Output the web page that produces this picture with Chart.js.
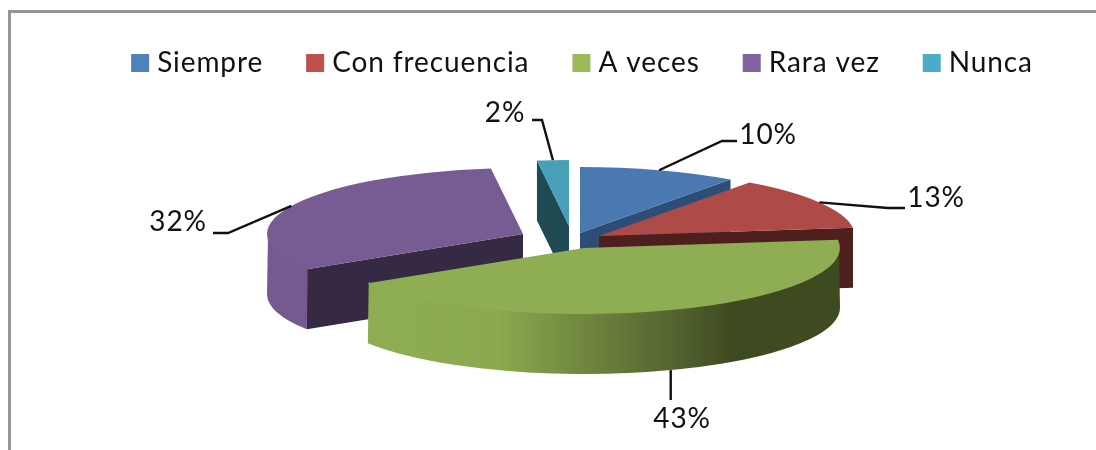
<!DOCTYPE html>
<html><head><meta charset="utf-8">
<script src="https://cdn.jsdelivr.net/npm/chart.js@4"></script>
<style>
html,body{margin:0;padding:0;background:#fff;width:1096px;height:450px;overflow:hidden}
#frame{position:absolute;left:8px;top:10px;right:0;bottom:0;border-left:3px solid #969696;border-top:3px solid #969696}
#wrap{position:absolute;left:0;top:0;width:1096px;height:450px}
</style></head><body>
<div id="frame"></div>
<div id="wrap"><canvas id="c" width="1096" height="450"></canvas></div>
<script>
const categories = ['Siempre','Con frecuencia','A veces','Rara vez','Nunca'];
const values = [10,13,43,32,2];
const legendColors = ['#4f81bd','#c0504d','#9bbb59','#8064a2','#4bacc6'];
const faceColors = ['#4a78b0','#ae4a47','#8fae54','#775b93','#47a0b8'];
const cutColors = ['#2c4d75','#4f1f1e','#3e4a20','#352944','#1f4a54'];

// 3D presentation settings
const PIE = {cx:566, cy:240, rx:256, ry:66, depth:60};
const explodeX = [14,33,18,-43,3];
const explodeY = [-7,-4,8,-6,-14];
const drawOrder = [4,0,3,1,2];
const FONT = '28px Lato';
const labelBox = [
  {x:768,y:135,ex:722,ey:141,lx:737},
  {x:936,y:198,ex:888,ey:208,lx:905},
  {x:682,y:419,ex:null,ey:369,lx:671,ly:400},
  {x:178,y:222,ex:228,ey:233,lx:213},
  {x:505,y:113,ex:542,ey:120,lx:532}
];

const pie3d = {
  id:'pie3d',
  beforeUpdate(chart){ chart.ctx.letterSpacing='0.9px'; },
  beforeDatasetsDraw(chart){
    const ctx = chart.ctx, meta = chart.getDatasetMeta(0);
    const geom = meta.data.map((el,i)=>{
      const mid=(el.startAngle+el.endAngle)/2;
      return {el,mid,x:PIE.cx+explodeX[i],y:PIE.cy+explodeY[i]};
    });
    const at=(g,a)=>[g.x+PIE.rx*Math.cos(a),g.y+PIE.ry*Math.sin(a)];
    const wall=(g,a,color)=>{
      const p=at(g,a);
      ctx.fillStyle=color;ctx.beginPath();
      ctx.moveTo(g.x,g.y);ctx.lineTo(p[0],p[1]);
      ctx.lineTo(p[0],p[1]+PIE.depth);ctx.lineTo(g.x,g.y+PIE.depth);
      ctx.closePath();ctx.fill();
    };
    for(const i of drawOrder){
      const g=geom[i], el=g.el, s=el.startAngle, e=el.endAngle;
      // cut walls that face the viewer
      if(Math.cos(s)<-0.001) wall(g,s,cutColors[i]);
      if(Math.cos(e)>0.001) wall(g,e,cutColors[i]);
      // outer wall: front-facing part of rim
      const a0=Math.max(s,0), a1=Math.min(e,Math.PI);
      if(a1>a0){
        const grad=ctx.createLinearGradient(g.x-PIE.rx,0,g.x+PIE.rx,0);
        if(i===2){
          grad.addColorStop(0,'#8fae54');grad.addColorStop(0.33,'#8ca94f');
          grad.addColorStop(0.43,'#7a9645');grad.addColorStop(0.53,'#6c803c');
          grad.addColorStop(0.68,'#52632f');grad.addColorStop(0.79,'#3e4a20');
          grad.addColorStop(1,'#3e4a20');
        } else if(i===3){
          grad.addColorStop(0,'#75598f');grad.addColorStop(1,'#6f5588');
        } else {
          grad.addColorStop(0,cutColors[i]);grad.addColorStop(1,cutColors[i]);
        }
        ctx.fillStyle=grad;ctx.beginPath();
        ctx.ellipse(g.x,g.y,PIE.rx-1,PIE.ry-2,0,a0,a1);
        ctx.ellipse(g.x,g.y+PIE.depth,PIE.rx,PIE.ry,0,a1,a0,true);
        ctx.closePath();ctx.fill();
      }
      // top face, drawn by the library's arc element
      ctx.save();
      ctx.translate(g.x,g.y);
      ctx.scale(PIE.rx/el.outerRadius,PIE.ry/el.outerRadius);
      ctx.translate(-el.x,-el.y);
      el.draw(ctx,chart.chartArea);
      ctx.restore();
    }
    // leader lines and labels
    ctx.save();
    ctx.letterSpacing='0.8px';
    ctx.strokeStyle='#111';ctx.lineWidth=2.4;
    ctx.fillStyle='#111';ctx.font=FONT;ctx.textAlign='center';ctx.textBaseline='middle';
    geom.forEach((g,i)=>{
      const b=labelBox[i];
      let p=at(g,g.mid);
      if(Math.sin(g.mid)>0) p=[p[0],p[1]+PIE.depth];
      ctx.beginPath();ctx.moveTo(p[0],p[1]);
      if(b.ex===null){ctx.lineTo(p[0],b.ly);}
      else{ctx.lineTo(b.ex,b.ey);ctx.lineTo(b.lx,b.ey);}
      ctx.stroke();
      ctx.fillText(values[i]+'%',b.x,b.y);
    });
    ctx.restore();
    return false;
  }
};

const canvas=document.getElementById('c');
new Chart(canvas,{
  type:'pie',
  data:{labels:categories,datasets:[{data:values,backgroundColor:faceColors,borderWidth:0}]},
  options:{
    responsive:false,animation:false,
    layout:{padding:{left:74,top:0,right:0,bottom:0}},
    plugins:{
      tooltip:{enabled:false},
      legend:{
        display:true,position:'top',align:'center',
        labels:{
          font:{family:'Lato',size:28},color:'#111',
          boxWidth:6,boxHeight:6,padding:49,
          generateLabels:()=>categories.map((t,i)=>({
            text:t,fillStyle:legendColors[i],strokeStyle:legendColors[i],lineWidth:12,
            hidden:false,index:i,fontColor:'#111'
          }))
        }
      }
    }
  },
  plugins:[pie3d]
});
</script>
</body></html>
